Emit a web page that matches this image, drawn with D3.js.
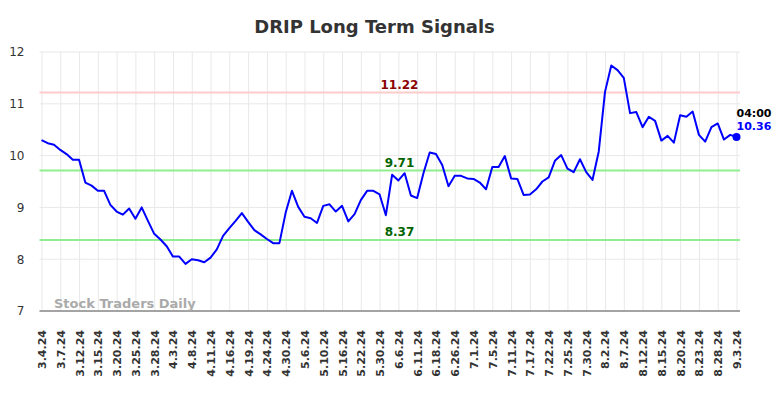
<!DOCTYPE html>
<html>
<meta charset="utf-8">
<head>
    <title>DRIP Long Term Signals</title>
    <style>
    body {
        margin: 0;
        padding: 0;
        background: #fff;
        font-family: "DejaVu Sans", sans-serif;
    }
    .grid line { stroke: #e8e8e8; stroke-width: 1; }
    .grid .domain { display: none; }
    .xlab text { font-weight: bold; font-size: 11px; fill: #333; }
    .ylab text { font-size: 12px; fill: #333; }
    </style>
<script src="https://d3js.org/d3.v7.min.js"></script>
</head>
<body>
<svg></svg>
<script>

// closing values, one per trading day, 3.4.24 .. 9.3.24
var values = [
    10.30, 10.24, 10.21, 10.11, 10.03, 9.92, 9.92, 9.48, 9.42, 9.32,
    9.32, 9.05, 8.92, 8.86, 8.98, 8.78, 9.00, 8.74, 8.49, 8.38,
    8.25, 8.05, 8.05, 7.91, 8.00, 7.98, 7.94, 8.03, 8.19, 8.45,
    8.60, 8.74, 8.89, 8.72, 8.56, 8.48, 8.39, 8.31, 8.31, 8.90,
    9.32, 9.01, 8.82, 8.79, 8.70, 9.03, 9.06, 8.92, 9.03, 8.73,
    8.87, 9.14, 9.32, 9.32, 9.25, 8.85, 9.63, 9.52, 9.66, 9.23,
    9.18, 9.66, 10.06, 10.03, 9.82, 9.41, 9.61, 9.61, 9.56, 9.55,
    9.48, 9.35, 9.78, 9.78, 9.99, 9.56, 9.55, 9.24, 9.25, 9.35,
    9.50, 9.58, 9.90, 10.01, 9.75, 9.68, 9.93, 9.68, 9.53, 10.08,
    11.23, 11.74, 11.65, 11.50, 10.82, 10.84, 10.55, 10.75, 10.67, 10.29,
    10.38, 10.25, 10.78, 10.75, 10.85, 10.40, 10.27, 10.55, 10.62, 10.31,
    10.40, 10.36
];

// one label every third trading day
var tickLabels = ["3.4.24", "3.7.24", "3.12.24", "3.15.24", "3.20.24", "3.25.24", "3.28.24",
    "4.3.24", "4.8.24", "4.11.24", "4.16.24", "4.19.24", "4.24.24", "4.30.24",
    "5.6.24", "5.10.24", "5.16.24", "5.22.24", "5.30.24", "6.6.24", "6.11.24",
    "6.18.24", "6.26.24", "7.1.24", "7.5.24", "7.11.24", "7.17.24", "7.22.24",
    "7.25.24", "7.30.24", "8.2.24", "8.7.24", "8.12.24", "8.15.24", "8.20.24",
    "8.23.24", "8.28.24", "9.3.24"];

var yTicks = [7, 8, 9, 10, 11, 12];

var upperSignal = 11.22;
var lowerSignals = [9.71, 8.37];
var lastTime = "04:00";

var width = 784, height = 398;
var plotLeft = 39.5, plotRight = 740, plotTop = 52, plotBottom = 311;

var svg = d3.select("svg")
    .attr("width", width)
    .attr("height", height);

var x = d3.scaleLinear()
    .domain([0, values.length - 1])
    .range([41.5, 736.5]);

var y = d3.scaleLinear()
    .domain([7, 12])
    .range([plotBottom, plotTop]);

var tickIdx = tickLabels.map((d, i) => i * 3);

// grid
svg.append("g")
    .attr("class", "grid")
    .attr("transform", "translate(0," + plotBottom + ")")
    .call(d3.axisBottom(x).tickValues(tickIdx).tickSize(-(plotBottom - plotTop)).tickFormat(""));

svg.append("g")
    .attr("class", "grid")
    .selectAll("line")
    .data(yTicks)
    .enter().append("line")
    .attr("x1", plotLeft)
    .attr("x2", plotRight)
    .attr("y1", d => y(d))
    .attr("y2", d => y(d));

// y labels
svg.append("g")
    .attr("class", "ylab")
    .selectAll("text")
    .data(yTicks)
    .enter().append("text")
    .attr("x", 24.5)
    .attr("y", d => y(d))
    .attr("dy", "0.36em")
    .attr("text-anchor", "end")
    .text(d => d);

// x labels
var xAxis = svg.append("g")
    .attr("class", "xlab")
    .attr("transform", "translate(0," + plotBottom + ")")
    .call(d3.axisBottom(x).tickValues(tickIdx).tickSize(0)
        .tickFormat((d, i) => tickLabels[i]));
xAxis.select(".domain").remove();
xAxis.selectAll("text")
    .attr("text-anchor", "end")
    .attr("transform", "rotate(-90)")
    .attr("x", -19)
    .attr("y", 0)
    .attr("dy", "0.36em")
    .attr("font-family", "DejaVu Sans")
    .attr("font-size", 11);

// bottom axis line
svg.append("line")
    .attr("x1", plotLeft)
    .attr("x2", plotRight)
    .attr("y1", plotBottom)
    .attr("y2", plotBottom)
    .attr("stroke", "#555")
    .attr("stroke-width", 1.2);

// watermark
svg.append("text")
    .attr("x", 54)
    .attr("y", 308)
    .attr("font-size", 13)
    .attr("font-weight", "bold")
    .attr("fill", "#aaa")
    .text("Stock Traders Daily");

// signal lines
svg.append("line")
    .attr("x1", plotLeft).attr("x2", plotRight)
    .attr("y1", y(upperSignal)).attr("y2", y(upperSignal))
    .attr("stroke", "#ffcccc")
    .attr("stroke-width", 2);

svg.selectAll(".lowsig")
    .data(lowerSignals)
    .enter().append("line")
    .attr("class", "lowsig")
    .attr("x1", plotLeft).attr("x2", plotRight)
    .attr("y1", d => y(d)).attr("y2", d => y(d))
    .attr("stroke", "#90ee90")
    .attr("stroke-width", 2);

svg.append("text")
    .attr("x", 399.5)
    .attr("y", y(upperSignal) - 3)
    .attr("text-anchor", "middle")
    .attr("font-size", 12)
    .attr("font-weight", "bold")
    .attr("fill", "#8b0000")
    .text(upperSignal.toFixed(2));

svg.selectAll(".lowlab")
    .data(lowerSignals)
    .enter().append("text")
    .attr("class", "lowlab")
    .attr("x", 399.5)
    .attr("y", d => y(d) - 4)
    .attr("text-anchor", "middle")
    .attr("font-size", 12)
    .attr("font-weight", "bold")
    .attr("fill", "#006400")
    .text(d => d.toFixed(2));

// price line
svg.append("path")
    .datum(values)
    .attr("fill", "none")
    .attr("stroke", "#0000ff")
    .attr("stroke-width", 2)
    .attr("stroke-linejoin", "round")
    .attr("d", d3.line().x((d, i) => x(i)).y(d => y(d)));

var last = values.length - 1;
svg.append("circle")
    .attr("cx", x(last))
    .attr("cy", y(values[last]))
    .attr("r", 4)
    .attr("fill", "#0000ff");

svg.append("text")
    .attr("x", x(last))
    .attr("y", y(values[last]) - 20)
    .attr("font-size", 11)
    .attr("font-weight", "bold")
    .attr("fill", "#000")
    .text(lastTime);

svg.append("text")
    .attr("x", x(last))
    .attr("y", y(values[last]) - 6.5)
    .attr("font-size", 11)
    .attr("font-weight", "bold")
    .attr("fill", "#0000ff")
    .text(values[last].toFixed(2));

// title
svg.append("text")
    .attr("x", 374.5)
    .attr("y", 32.5)
    .attr("text-anchor", "middle")
    .attr("font-size", 18)
    .attr("font-weight", "bold")
    .attr("fill", "#333")
    .text("DRIP Long Term Signals");

</script>
</body>
</html>
